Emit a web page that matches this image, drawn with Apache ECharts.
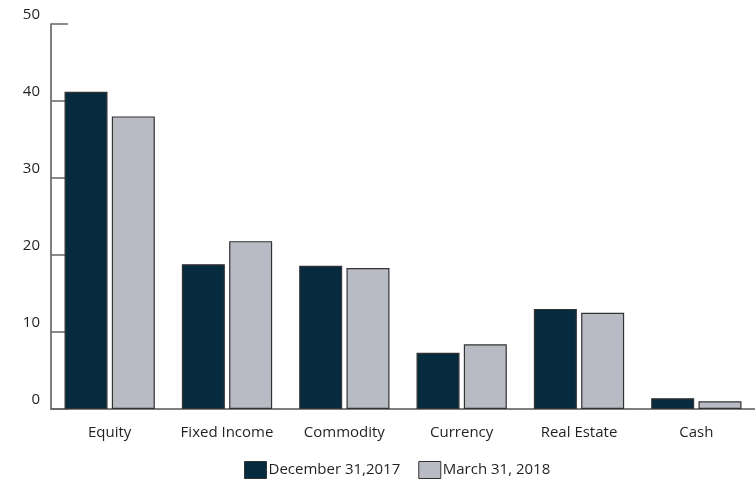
<!DOCTYPE html>
<html><head><meta charset="utf-8">
<script src="https://cdn.jsdelivr.net/npm/echarts@6/dist/echarts.min.js"></script>
<style>html,body{margin:0;padding:0;background:#fff;overflow:hidden}#c{width:755px;height:482px}</style>
</head><body><div id="c"></div>
<script>
const categories = ['Equity', 'Fixed Income', 'Commodity', 'Currency', 'Real Estate', 'Cash'];
const dec2017 = [41.2, 18.8, 18.6, 7.3, 13.0, 1.4];
const mar2018 = [38.0, 21.8, 18.3, 8.4, 12.5, 1.0];
const seriesNames = ['December 31,2017', 'March 31, 2018'];
const yTicks = [0, 10, 20, 30, 40, 50];

const chart = echarts.init(document.getElementById('c'), null, {renderer: 'canvas'});
const font = '"Open Sans", "Noto Sans", sans-serif';
chart.setOption({
  animation: false,
  grid: {left: 51, top: 24, bottom: 73, width: 708, containLabel: false},
  legend: {
    top: 456, left: 239, itemWidth: 22, itemHeight: 17, itemGap: 18, icon: 'rect',
    textStyle: {fontFamily: font, fontSize: 15, color: '#231f20', padding: [0, 0, 0, -3]},
    itemStyle: {borderColor: '#333', borderWidth: 1},
    data: seriesNames
  },
  xAxis: {
    type: 'category', data: categories,
    axisLine: {lineStyle: {color: '#555', width: 1.5}},
    axisTick: {inside: true, length: 10, lineStyle: {color: '#666', width: 1.5}},
    axisLabel: {interval: 0, fontFamily: font, fontSize: 15, color: '#231f20', margin: 16}
  },
  yAxis: {
    type: 'value', min: yTicks[0], max: yTicks[yTicks.length - 1], interval: 10,
    splitLine: {show: false},
    axisLine: {show: true, lineStyle: {color: '#555', width: 1.5}},
    axisTick: {show: true, inside: true, length: 17, lineStyle: {color: '#666', width: 1.5}},
    axisLabel: {fontFamily: font, fontSize: 15, color: '#231f20', margin: 11, verticalAlign: 'bottom', padding: [0, 0, 2, 0]}
  },
  series: [
    {name: seriesNames[0], type: 'bar', data: dec2017, barWidth: 43, barGap: '10%',
     itemStyle: {color: '#062A3E', borderColor: '#333', borderWidth: 1.2}},
    {name: seriesNames[1], type: 'bar', data: mar2018, barWidth: 43,
     itemStyle: {color: '#B9BBC4', borderColor: '#333', borderWidth: 1.2}}
  ]
});
</script></body></html>
